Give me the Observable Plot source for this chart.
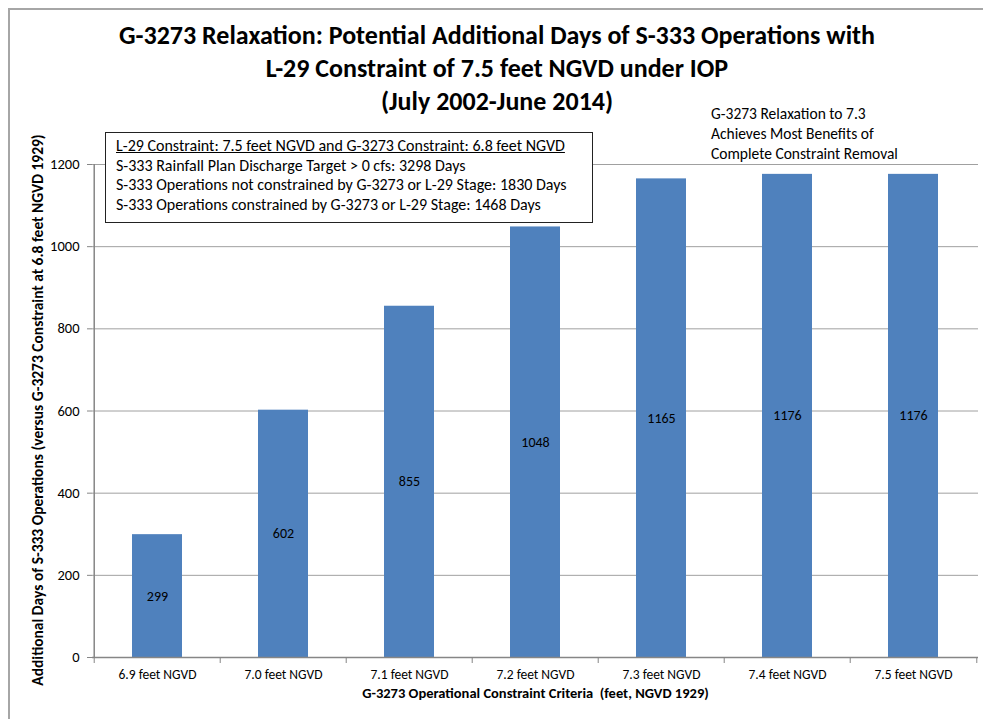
<!DOCTYPE html>
<html>
<head>
<meta charset="utf-8">
<script src="https://cdn.jsdelivr.net/npm/d3@7"></script>
<script src="https://cdn.jsdelivr.net/npm/@observablehq/plot@0.6"></script>
<style>
  html, body { margin: 0; padding: 0; background: #fff; }
  #wrap { position: relative; width: 983px; height: 719px; overflow: hidden; background: #fff;
          font-family: "Carlito", "Lato", "Noto Sans", sans-serif; color: #000; }
  #border { position: absolute; left: 8px; top: 8px; width: 990px; height: 730px;
            border-top: 2px solid #a6a6a6; border-left: 2px solid #a6a6a6; }
  #title { position: absolute; left: 0; width: 994px; top: 19px; text-align: center;
           font-weight: bold; font-size: 26px; line-height: 33px; }
  #chart { position: absolute; left: 0; top: 120px; }
  #ytitle { position: absolute; left: 37px; top: 410px; transform: translate(-50%, -50%) rotate(-90deg);
            white-space: nowrap; font-weight: bold; font-size: 15.5px; }
  #box { position: absolute; left: 105px; top: 132px; width: 488px; height: 91px;
         border: 1px solid #222; background: #fff; padding: 3px 0 0 10px; box-sizing: border-box;
         font-size: 16px; line-height: 19.5px; }
  #box div:first-child { text-decoration: underline; }
  #note { position: absolute; left: 711px; top: 104px; font-size: 15.5px; line-height: 20px; }
</style>
</head>
<body>
<div id="wrap">
  <div id="border"></div>
  <div id="title"></div>
  <div id="chart"></div>
  <div id="ytitle"></div>
  <div id="box"></div>
  <div id="note"></div>
</div>
<script>
const categories = ["6.9 feet NGVD", "7.0 feet NGVD", "7.1 feet NGVD", "7.2 feet NGVD", "7.3 feet NGVD", "7.4 feet NGVD", "7.5 feet NGVD"];
const values = [299, 602, 855, 1048, 1165, 1176, 1176];
const yTicks = [0, 200, 400, 600, 800, 1000, 1200];
const titleLines = [
  "G-3273 Relaxation: Potential Additional Days of S-333 Operations with",
  "L-29 Constraint of 7.5 feet NGVD under IOP",
  "(July 2002-June 2014)"
];
const xTitle = "G-3273 Operational Constraint Criteria  (feet, NGVD 1929)";
const yTitle = "Additional Days of S-333 Operations  (versus G-3273 Constraint at 6.8 feet  NGVD 1929)";
const boxLines = [
  "L-29 Constraint: 7.5 feet NGVD and G-3273 Constraint: 6.8 feet NGVD",
  "S-333 Rainfall Plan Discharge Target > 0 cfs: 3298  Days",
  "S-333 Operations not constrained by G-3273 or L-29 Stage: 1830  Days",
  "S-333 Operations constrained by G-3273 or L-29 Stage:  1468  Days"
];
const noteLines = [
  "G-3273 Relaxation to 7.3",
  "Achieves Most Benefits of",
  "Complete Constraint Removal"
];

const data = categories.map((c, i) => ({category: c, value: values[i]}));

const W = 983, H = 599;
const mL = 92, mR = 5, mT = 44, mB = 62;
const step = (W - mL - mR) / categories.length;
const axisColor = "#868686";
const font = '"Carlito", "Lato", "Noto Sans", sans-serif';

const chart = Plot.plot({
  width: W,
  height: H,
  marginLeft: mL,
  marginRight: mR,
  marginTop: mT,
  marginBottom: mB,
  style: {fontFamily: font, fontSize: "13px", color: "#000", background: "transparent"},
  x: {domain: categories, paddingInner: 0.6, paddingOuter: 0.3, label: null},
  y: {domain: [0, 1200], label: null},
  marks: [
    Plot.gridY(yTicks, {stroke: "#a0a0a0", strokeOpacity: 1}),
    Plot.barY(data, {x: "category", y: "value", fill: "#4F81BD"}),
    Plot.ruleY([0], {stroke: axisColor, strokeWidth: 1.5}),
    Plot.ruleX([categories[0]], {dx: -step / 2, y1: 0, y2: 1200, stroke: axisColor, strokeWidth: 1.5}),
    Plot.axisY({ticks: yTicks, tickFormat: d => String(d), tickSize: 5, tickPadding: 8, stroke: axisColor, fontSize: 14.5, label: null}),
    Plot.axisX({tickSize: 6, text: null, dx: -step / 2, stroke: axisColor, label: null}),
    Plot.axisX([categories[categories.length - 1]], {tickSize: 6, text: null, dx: step / 2, stroke: axisColor, label: null}),
    Plot.axisX({tickSize: 0, tickPadding: 12, fontSize: 13.5, label: null}),
    Plot.text(data, {x: "category", y: d => d.value / 2, text: d => String(d.value), fontSize: 14, fill: "#000"}),
    Plot.text([xTitle], {text: d => d, frameAnchor: "bottom", dy: 40, fontWeight: "bold", fontSize: 14.5, fill: "#000"})
  ]
});
document.getElementById("chart").appendChild(chart);

document.getElementById("title").innerHTML = titleLines.map(t => `<div>${t}</div>`).join("");
document.getElementById("ytitle").textContent = yTitle;
document.getElementById("box").innerHTML = boxLines.map(t => `<div>${t.replace(/&/g,"&amp;").replace(/>/g,"&gt;")}</div>`).join("");
document.getElementById("note").innerHTML = noteLines.map(t => `<div>${t}</div>`).join("");
</script>
</body>
</html>
